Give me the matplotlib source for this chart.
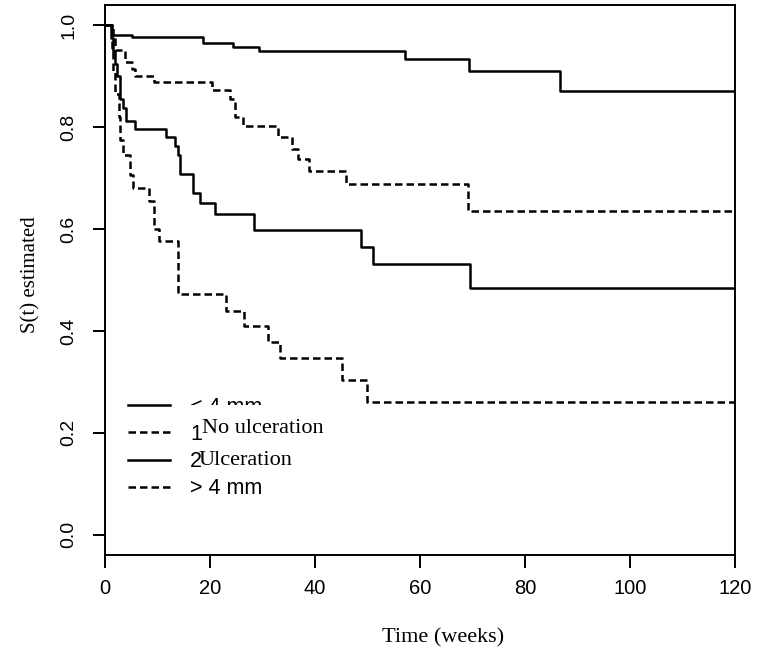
import matplotlib.pyplot as plt
from matplotlib.lines import Line2D
from matplotlib.patches import Rectangle

# Kaplan-Meier steps (time in weeks, survival)
thin_t = [0, 1.4, 5.1, 18.7, 24.3, 29.4, 57.1, 69.3, 86.7, 120]
thin_s = [1.0, 0.981, 0.978, 0.965, 0.958, 0.949, 0.933, 0.910, 0.871, 0.871]

noulc_t = [0, 1.5, 2.0, 3.8, 5.2, 5.8, 9.3, 20.3, 23.8, 24.8, 26.3, 33.0, 35.6, 36.8, 38.9, 46.0, 69.2, 120]
noulc_s = [1.0, 0.975, 0.952, 0.928, 0.915, 0.901, 0.888, 0.873, 0.856, 0.820, 0.802, 0.781, 0.758,
           0.737, 0.714, 0.688, 0.635, 0.635]

ulc_t = [0, 1.2, 1.6, 2.0, 2.3, 2.9, 3.5, 4.0, 5.7, 11.7, 13.3, 14.0, 14.3, 16.8, 18.1, 21.0, 28.3,
         48.8, 51.0, 69.5, 120]
ulc_s = [1.0, 0.975, 0.95, 0.925, 0.90, 0.856, 0.837, 0.812, 0.797, 0.780, 0.763, 0.745, 0.709,
         0.671, 0.652, 0.629, 0.599, 0.565, 0.531, 0.484, 0.484]

thick_t = [0, 1.3, 1.6, 2.0, 2.6, 2.9, 3.4, 4.8, 5.3, 8.4, 9.3, 10.3, 14.0, 23.0, 26.5, 31.0, 33.3,
           45.2, 50.0, 120]
thick_s = [1.0, 0.955, 0.91, 0.866, 0.82, 0.775, 0.745, 0.706, 0.68, 0.655, 0.601, 0.577, 0.473,
           0.440, 0.410, 0.379, 0.346, 0.304, 0.261, 0.261]

legend_labels = ['< 4 mm', '1', '2', '> 4 mm']
x_ticks = [0, 20, 40, 60, 80, 100, 120]
y_ticks = [0.0, 0.2, 0.4, 0.6, 0.8, 1.0]

sans = 'Liberation Sans'
serif = 'Liberation Serif'
dash = (3.0, 1.6)
lw = 1.8

fig = plt.figure(figsize=(7.58, 6.5), dpi=100)
ax = fig.add_axes([0.1385, 0.1462, 0.8311, 0.8462])

ax.step(thin_t, thin_s, where='post', color='black', lw=lw)
ax.step(noulc_t, noulc_s, where='post', color='black', lw=lw, dashes=dash)
ax.step(ulc_t, ulc_s, where='post', color='black', lw=lw)
ax.step(thick_t, thick_s, where='post', color='black', lw=lw, dashes=dash)

ax.set_xlim(0, 120)
ax.set_ylim(-0.04, 1.04)
ax.set_xticks(x_ticks)
ax.set_yticks(y_ticks)
ax.set_xticklabels([str(t) for t in x_ticks], fontfamily=sans, fontsize=14.5)
ax.set_yticklabels(['%.1f' % t for t in y_ticks], fontfamily=sans, fontsize=14,
                   rotation=90, va='center')
ax.tick_params(axis='both', direction='out', length=9, width=1.4, color='black')
ax.tick_params(axis='y', pad=11)
ax.tick_params(axis='x', pad=8)
for sp in ax.spines.values():
    sp.set_linewidth(1.4)

ax.set_xlabel('Time (weeks)', fontfamily=serif, fontsize=16)
ax.set_ylabel('S(t) estimated', fontfamily=serif, fontsize=15)
ax.xaxis.set_label_coords(0.537, -0.133)
ax.yaxis.set_label_coords(-0.103, 0.51)

handles = [Line2D([], [], color='black', lw=lw),
           Line2D([], [], color='black', lw=lw, dashes=dash),
           Line2D([], [], color='black', lw=lw),
           Line2D([], [], color='black', lw=lw, dashes=dash)]
leg = ax.legend(handles, legend_labels, loc='upper left', bbox_to_anchor=(0.0365, 0.288),
                frameon=False, borderpad=0, borderaxespad=0, handlelength=1.95,
                handletextpad=0.93, labelspacing=0.29, prop={'family': sans, 'size': 15.5})

# pasted-over labels that partly hide the original legend text
ax.add_patch(Rectangle((15.2, 0.2255), 27.7, 0.0295, facecolor='white', edgecolor='none', zorder=6))
ax.text(18.4, 0.209, 'No ulceration', fontfamily=serif, fontsize=16, va='center', ha='left', zorder=7)
ax.text(17.8, 0.145, 'Ulceration', fontfamily=serif, fontsize=16, va='center', ha='left', zorder=7)

fig.savefig('out.png', dpi=100)
